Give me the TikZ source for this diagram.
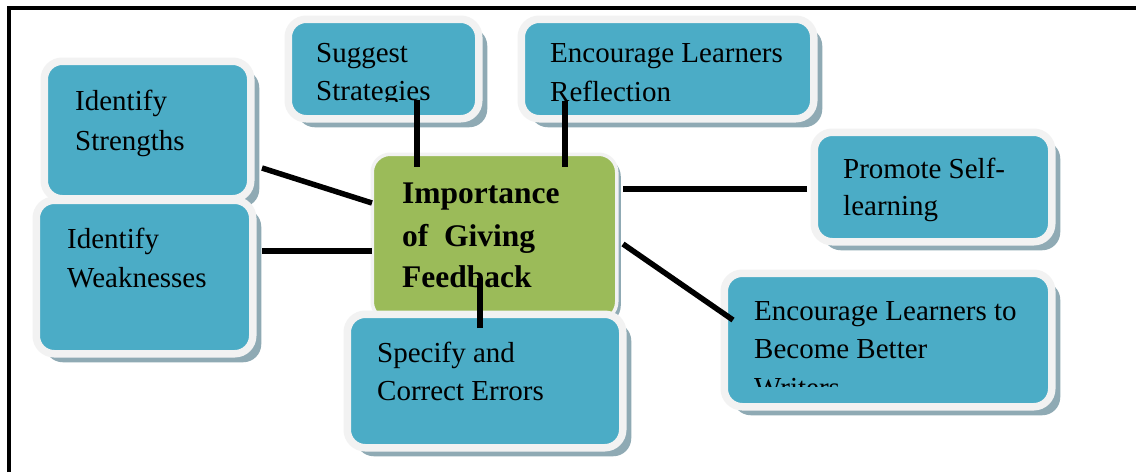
\documentclass[tikz,border=0pt]{standalone}
\usepackage{fontspec}
\setmainfont{Liberation Serif}
\usetikzlibrary{shadows}
\definecolor{boxblue}{HTML}{4BACC6}
\definecolor{boxrim}{HTML}{F2F2F2}
\definecolor{boxshade}{HTML}{8FAAB4}
\definecolor{hubgreen}{HTML}{9BBB59}
\tikzset{
  bluebox/.style={rectangle, fill=boxblue, draw=boxrim, line width=7.5pt, rounded corners=18pt, inner sep=0pt,
    drop shadow={shadow xshift=8.5pt, shadow yshift=-8.5pt, fill=boxshade, opacity=1}},
  hubbox/.style={rectangle, fill=hubgreen, draw=boxrim, line width=3.5pt, rounded corners=18pt, inner sep=0pt,
    drop shadow={shadow xshift=4pt, shadow yshift=-4pt, fill=boxshade, opacity=1}},
  txt/.style={anchor=base west, inner sep=0pt, font=\fontsize{29}{34}\selectfont},
  hubtxt/.style={anchor=base west, inner sep=0pt, font=\fontsize{31.5}{36}\selectfont\bfseries},
  conn/.style={line width=5.5pt, black},
  frame/.style={line width=3.8pt, black}
}
% box with inner edges L,T,R,B (pixel coords, y down)
\newcommand{\mybox}[6]{%
  \node[#1, minimum width={#5-#3+7.5pt}, minimum height={#6-#4+7.5pt}] (#2) at ({(#3+#5)/2},{(#4+#6)/2}) {};}
\begin{document}
\begin{tikzpicture}[x=1pt,y=-1pt]
\useasboundingbox (0,0) rectangle (1136,472);
\fill[white] (0,0) rectangle (1136,472);
% frame
\draw[frame] (9,472) -- (9,8) -- (1136,8);
% boxes (back to front)
\node[bluebox, minimum width=206.5pt, minimum height=137.5pt] (str) at (147.5,130) {};
\node[bluebox, minimum width=190.5pt, minimum height=99.5pt] (sug) at (383.5,69) {};
\node[bluebox, minimum width=292.5pt, minimum height=99.5pt] (ref) at (667.5,69) {};
\node[bluebox, minimum width=237.5pt, minimum height=109.5pt] (pro) at (933,187) {};
\node[bluebox, minimum width=327.5pt, minimum height=133.5pt] (wri) at (888,340) {};
\node[hubbox, minimum width=244.5pt, minimum height=165.5pt] (hub) at (494.5,237) {};
\node[bluebox, minimum width=216.5pt, minimum height=153.5pt] (wea) at (144.5,277) {};
\node[bluebox, minimum width=275.5pt, minimum height=133.5pt] (spe) at (485,381) {};
% texts
\node[txt] (str1) at (75,110) {Identify};
\node[txt] (str2) at (75,150) {Strengths};
\node[txt] (wea1) at (67,248) {Identify};
\node[txt] (wea2) at (67,287) {Weaknesses};
\node[txt] (sug1) at (316,62) {Suggest};
\begin{scope}
\clip (290,60) rectangle (480,101);
\node[txt] (sug2) at (316,100) {Strategies};
\end{scope}
\node[txt] (ref1) at (550,62) {Encourage Learners};
\begin{scope}
\clip (520,60) rectangle (815,102);
\node[txt] (ref2) at (550,101) {Reflection};
\end{scope}
\node[txt] (pro1) at (843,178) {Promote Self-};
\node[txt] (pro2) at (843,215) {learning};
\node[txt] (wri1) at (754,320) {Encourage Learners to};
\node[txt] (wri2) at (754,358) {Become Better};
\begin{scope}
\clip (730,360) rectangle (1050,386.5);
\node[txt] (wri3) at (754,397) {Writers};
\end{scope}
\node[hubtxt] (hub1) at (402,203) {Importance};
\node[hubtxt] (hub2) at (402,246) {of\ \ Giving};
\node[hubtxt] (hub3) at (402,287) {Feedback};
\node[txt] (spe1) at (377,362) {Specify and};
\node[txt] (spe2) at (377,400) {Correct Errors};
% connector end points
\coordinate (a1) at (262,168); \coordinate (b1) at (372,203);
\coordinate (a2) at (262,251); \coordinate (b2) at (372,251);
\coordinate (a3) at (417,100); \coordinate (b3) at (417,167);
\coordinate (a4) at (565,101); \coordinate (b4) at (565,167);
\coordinate (a5) at (807,189); \coordinate (b5) at (623,189);
\coordinate (a6) at (733,320); \coordinate (b6) at (623,244);
\coordinate (a7) at (480,328); \coordinate (b7) at (480,278);
\draw[conn] (a1) -- (b1);
\draw[conn] (a2) -- (b2);
\draw[conn] (a3) -- (b3);
\draw[conn] (a4) -- (b4);
\draw[conn] (a5) -- (b5);
\draw[conn] (a6) -- (b6);
\draw[conn] (a7) -- (b7);
\end{tikzpicture}
\end{document}
